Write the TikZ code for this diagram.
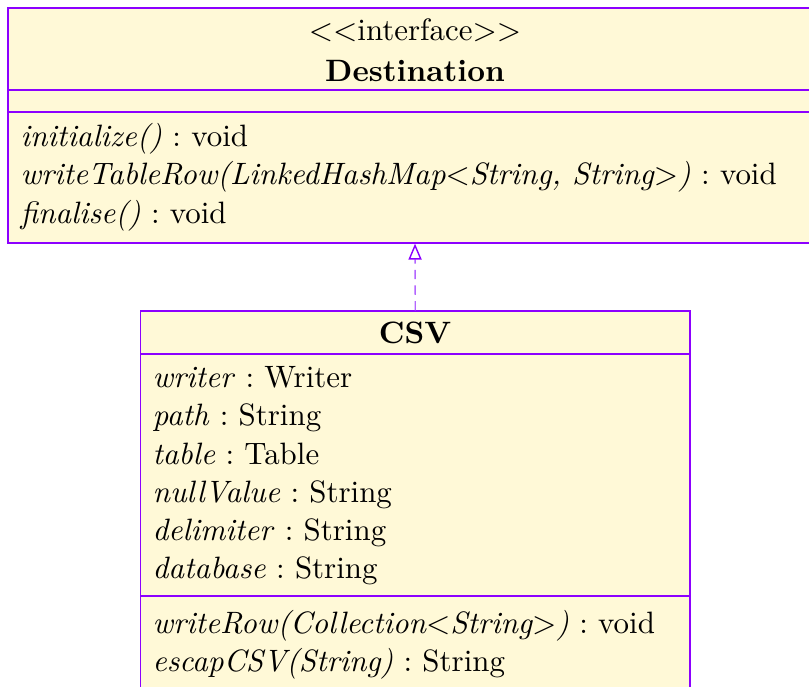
\documentclass[tikz,border=0pt]{standalone}
\usetikzlibrary{arrows.meta}
\definecolor{umlfill}{HTML}{FFF9D7}
\definecolor{umldraw}{HTML}{8C00FF}
\definecolor{umldash}{HTML}{B366FF}
\tikzset{
  umlbox/.style={draw=umldraw, fill=umlfill, line width=0.45pt, rectangle, inner sep=0pt},
  sepline/.style={draw=umldraw, line width=0.45pt},
  txt/.style={anchor=base west, inner sep=0pt, font=\fontsize{9.91}{12}\selectfont},
  ttl/.style={anchor=base, inner sep=0pt, font=\fontsize{9.91}{12}\selectfont},
  realize/.style={draw=umldash, line width=0.45pt, dash pattern=on 3pt off 2pt,
    -{Triangle[open, length=5.1pt, width=4.2pt, color=umldraw, fill=white]}}
}
\frenchspacing
\begin{document}
\begin{tikzpicture}[x=0.32051pt, y=-0.32051pt]
\useasboundingbox (0,0) rectangle (809,686);
\clip (0,0) rectangle (809,686);
% Destination interface
\node[umlbox, minimum width=260.9pt, minimum height=75.32pt] (dest) at (415,125.5) {};
\draw[sepline] (8,90) -- (822,90);
\draw[sepline] (8,112) -- (822,112);
\node[ttl] (destst) at (415,40) {$<<$interface$>>$};
\node[ttl] (destname) at (415,81) {\textbf{Destination}};
\node[txt] (dm1) at (20,146) {\textit{initialize()} : void};
\node[txt] (dm2) at (20,184.5) {\textit{writeTableRow(LinkedHashMap$<$String, String$>$)} : void};
\node[txt] (dm3) at (20,223) {\textit{finalise()} : void};
% CSV class
\node[umlbox, minimum width=176.1pt, minimum height=122.4pt] (csv) at (415.25,502) {};
\draw[sepline] (140.5,354) -- (690,354);
\draw[sepline] (140.5,596) -- (690,596);
\node[ttl] (csvname) at (415,343) {\textbf{CSV}};
\node[txt] (ca1) at (152,387) {\textit{writer} : Writer};
\node[txt] (ca2) at (152,425) {\textit{path} : String};
\node[txt] (ca3) at (152,464) {\textit{table} : Table};
\node[txt] (ca4) at (152,502) {\textit{nullValue} : String};
\node[txt] (ca5) at (152,540) {\textit{delimiter} : String};
\node[txt] (ca6) at (152,578) {\textit{database} : String};
\node[txt] (cm1) at (152,633) {\textit{writeRow(Collection$<$String$>$)} : void};
\node[txt] (cm2) at (152,671) {\textit{escapCSV(String)} : String};
% realization
\draw[realize] (csv.north) -- (dest.south);
\end{tikzpicture}
\end{document}
